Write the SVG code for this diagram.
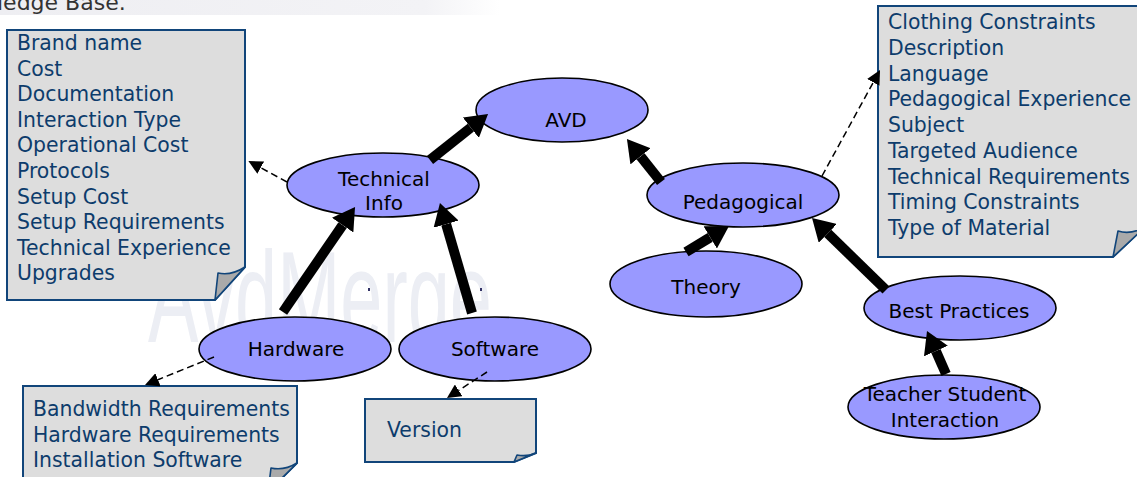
<svg xmlns="http://www.w3.org/2000/svg" width="1137" height="477" viewBox="0 0 1137 477">
<defs>
<linearGradient id="band" x1="0" y1="0" x2="1" y2="0">
<stop offset="0" stop-color="#eeeef2"/>
<stop offset="0.85" stop-color="#f3f3f6"/>
<stop offset="1" stop-color="#ffffff"/>
</linearGradient>
<marker id="big" viewBox="0 -13 22 26" refX="0" refY="0" markerWidth="22" markerHeight="26" markerUnits="userSpaceOnUse" orient="auto">
<path d="M0,-13 L22,0 L0,13 Z" fill="#000"/>
</marker>
<marker id="small" viewBox="0 -7 14 14" refX="0" refY="0" markerWidth="14" markerHeight="14" markerUnits="userSpaceOnUse" orient="auto">
<path d="M0,-7 L14,0 L0,7 Z" fill="#000"/>
</marker>
</defs>
<style>
.node{fill:#9999ff;stroke:#000;stroke-width:1.6}
.lbl{font-family:"DejaVu Sans",Verdana,sans-serif;font-size:20px;fill:#000;text-anchor:middle}
.note{fill:#dddddd;stroke:#11457a;stroke-width:2}
.curl{fill:#aaaaaa;stroke:#11457a;stroke-width:1.6;stroke-linejoin:round}
.nt{font-family:"DejaVu Sans",Verdana,sans-serif;font-size:20.4px;fill:#0d3c6c}
.thick{stroke:#000;stroke-width:10;fill:none;marker-end:url(#big)}
.dash{stroke:#000;stroke-width:1.5;stroke-dasharray:7 4;fill:none;marker-end:url(#small)}
</style>
<rect width="1137" height="477" fill="#ffffff"/>
<rect x="0" y="0" width="500" height="15" fill="url(#band)"/>
<text x="-3" y="10" font-family="DejaVu Sans, sans-serif" font-size="22" fill="#333">ledge Base.</text>
<text transform="translate(148,342) scale(0.583,1)" x="0" y="0" font-family="Liberation Sans, sans-serif" font-size="130" fill="#eceef4">AvdMerge</text>
<rect x="368" y="288" width="2" height="3" fill="#333366"/>
<rect x="480" y="288" width="2" height="3" fill="#333366"/>

<g id="note-technical">
<path class="note" d="M7,30 H245 V267 L215,300 H7 Z"/>
<path class="curl" d="M215,300 L218,273 Q231,276 245,267 Z"/>
<text class="nt" x="17" y="50">Brand name</text>
<text class="nt" x="17" y="76">Cost</text>
<text class="nt" x="17" y="101">Documentation</text>
<text class="nt" x="17" y="127">Interaction Type</text>
<text class="nt" x="17" y="152">Operational Cost</text>
<text class="nt" x="17" y="178">Protocols</text>
<text class="nt" x="17" y="204">Setup Cost</text>
<text class="nt" x="17" y="229">Setup Requirements</text>
<text class="nt" x="17" y="255">Technical Experience</text>
<text class="nt" x="17" y="280">Upgrades</text>
</g>

<g id="note-pedagogical">
<path class="note" d="M878,6 H1145 V227 L1113,257 H878 Z"/>
<path class="curl" d="M1113,257 L1118,231 Q1131,235 1145,227 Z"/>
<text class="nt" x="888" y="29">Clothing Constraints</text>
<text class="nt" x="888" y="55">Description</text>
<text class="nt" x="888" y="81">Language</text>
<text class="nt" x="888" y="106">Pedagogical Experience</text>
<text class="nt" x="888" y="132">Subject</text>
<text class="nt" x="888" y="158">Targeted Audience</text>
<text class="nt" x="888" y="184">Technical Requirements</text>
<text class="nt" x="888" y="209">Timing Constraints</text>
<text class="nt" x="888" y="235">Type of Material</text>
</g>

<g id="note-hardware">
<path class="note" d="M23,386 H297 V463 L268,492 H23 Z"/>
<path class="curl" d="M268,492 L271,468 Q284,471 297,463 Z"/>
<text class="nt" x="33" y="416">Bandwidth Requirements</text>
<text class="nt" x="33" y="442">Hardware Requirements</text>
<text class="nt" x="33" y="467">Installation Software</text>
</g>

<g id="note-software">
<path class="note" d="M365,399 H536 V453 L514,462 H365 Z"/>
<path class="curl" d="M514,462 L517,455 Q527,457 536,453 Z"/>
<text class="nt" x="387" y="437">Version</text>
</g>

<g id="node-avd">
<ellipse class="node" cx="562" cy="110" rx="86" ry="32"/>
<text class="lbl" x="566" y="127">AVD</text>
</g>
<g id="node-technical-info">
<ellipse class="node" cx="383" cy="185" rx="96" ry="32"/>
<text class="lbl" x="384" y="186">Technical</text>
<text class="lbl" x="384" y="210">Info</text>
</g>
<g id="node-pedagogical">
<ellipse class="node" cx="743" cy="195" rx="96" ry="32"/>
<text class="lbl" x="743" y="209">Pedagogical</text>
</g>
<g id="node-theory">
<ellipse class="node" cx="706" cy="284" rx="96" ry="33"/>
<text class="lbl" x="706" y="294">Theory</text>
</g>
<g id="node-best-practices">
<ellipse class="node" cx="960" cy="308" rx="96" ry="32"/>
<text class="lbl" x="959" y="318">Best Practices</text>
</g>
<g id="node-teacher-student">
<ellipse class="node" cx="944" cy="407" rx="96" ry="32"/>
<text class="lbl" x="945" y="401">Teacher Student</text>
<text class="lbl" x="945" y="427">Interaction</text>
</g>
<g id="node-hardware">
<ellipse class="node" cx="295" cy="349" rx="96" ry="32"/>
<text class="lbl" x="296" y="356">Hardware</text>
</g>
<g id="node-software">
<ellipse class="node" cx="495" cy="349" rx="96" ry="32"/>
<text class="lbl" x="495" y="356">Software</text>
</g>

<g id="connectors">
<line class="thick" x1="430" y1="160" x2="470.8" y2="127.7"/>
<line class="thick" x1="283" y1="312" x2="342.6" y2="225.1"/>
<line class="thick" x1="472" y1="313" x2="446.1" y2="224.1"/>
<line class="thick" x1="661" y1="182" x2="640.6" y2="156.3"/>
<line class="thick" x1="686" y1="252" x2="710.2" y2="237.4"/>
<line class="thick" x1="886" y1="290" x2="827.8" y2="233.4"/>
<line class="thick" x1="946" y1="374" x2="935.9" y2="351.1"/>
<line class="dash" x1="287" y1="182" x2="260.7" y2="167.7"/>
<line class="dash" x1="822" y1="176" x2="873.3" y2="82.3"/>
<line class="dash" x1="214" y1="357" x2="158" y2="379.7"/>
<line class="dash" x1="487" y1="372" x2="458.7" y2="390.4"/>
</g>
</svg>
